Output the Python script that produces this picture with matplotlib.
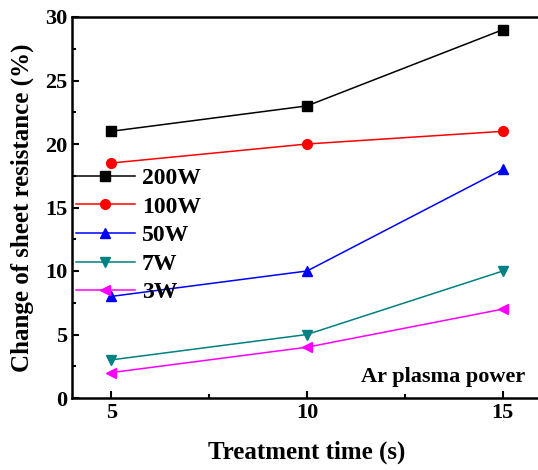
import numpy as np
import matplotlib.pyplot as plt
from matplotlib.ticker import MultipleLocator

plt.rcParams['font.family'] = ['Liberation Serif', 'DejaVu Serif']
plt.rcParams['font.weight'] = 'bold'

# data
time_s = [5, 10, 15]
labels = ["200W", "100W", "50W", "7W", "3W"]
v_200 = [21, 23, 29]
v_100 = [18.5, 20, 21]
v_50 = [8, 10, 18]
v_7 = [3, 5, 10]
v_3 = [2, 4, 7]

series = [v_200, v_100, v_50, v_7, v_3]
colors = ["black", "red", "blue", "#008080", "magenta"]
markers = ["s", "o", "^", "v", "<"]

fig = plt.figure(figsize=(5.38, 4.70), dpi=100)
ax = fig.add_axes([72/538, 1 - 398/470, 470/538, 381/470])

for vals, lab, c, m in zip(series, labels, colors, markers):
    ax.plot(time_s, vals, color=c, marker=m, markersize=7, lw=1.1, label=lab)

ax.set_xlim(4, 16)
ax.set_ylim(0, 30)
ax.xaxis.set_major_locator(MultipleLocator(5))
ax.xaxis.set_minor_locator(MultipleLocator(2.5))
ax.yaxis.set_major_locator(MultipleLocator(5))
ax.yaxis.set_minor_locator(MultipleLocator(2.5))
ax.tick_params(which='both', direction='in', width=1.5, labelsize=16)
ax.tick_params(which='major', length=5)
ax.tick_params(which='minor', length=3)
for sp in ax.spines.values():
    sp.set_linewidth(1.8)

ax.set_xlabel("Treatment time (s)", fontsize=18, fontweight='bold', labelpad=13)
ax.set_ylabel("Change of sheet resistance (%)", fontsize=18, fontweight='bold', labelpad=8)

ax.legend(loc='upper left', bbox_to_anchor=(-0.012, 0.63), frameon=False,
          fontsize=17, handlelength=2.5, handletextpad=0.3, labelspacing=0.3,
          borderaxespad=0)

ax.text(0.965, 0.055, "Ar plasma power", transform=ax.transAxes, ha='right',
        va='center', fontsize=16, fontweight='bold')

plt.savefig("out.png", dpi=100)
